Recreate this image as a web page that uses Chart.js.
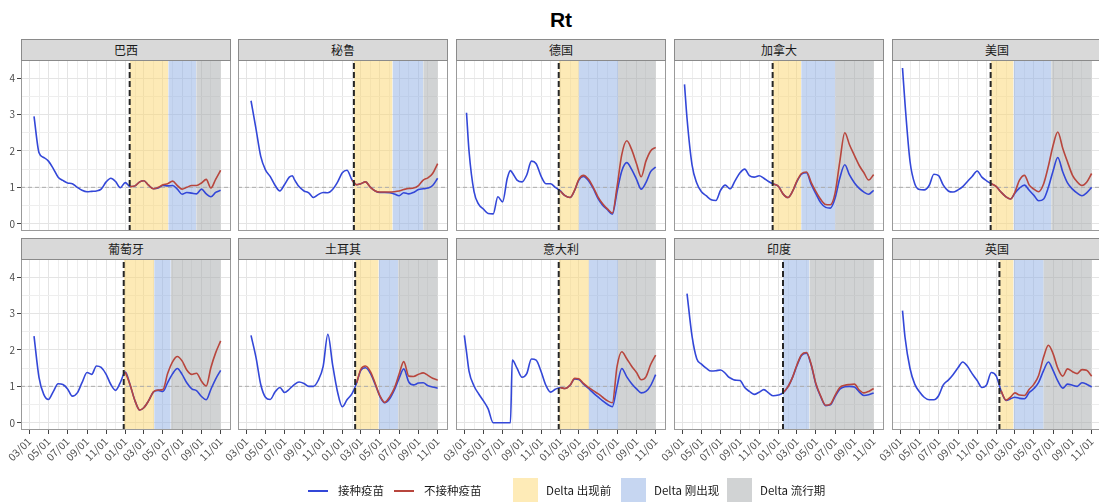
<!DOCTYPE html>
<html>
<head>
<meta charset="utf-8">
<script src="https://cdn.jsdelivr.net/npm/chart.js@4.4.1/dist/chart.umd.min.js"></script>
<style>
html,body{margin:0;padding:0;background:#fff;overflow:hidden;width:1099px;height:503px;}
body{position:relative;font-family:"Noto Sans CJK SC","Liberation Sans",sans-serif;}
canvas{position:absolute;}
.strip{position:absolute;box-sizing:border-box;width:210px;height:22px;background:#d9d9d9;border:1px solid #8a8a8a;text-align:center;font-size:12px;line-height:20px;color:#1a1a1a;}
#title{position:absolute;left:0;top:8px;width:1122px;text-align:center;font-family:"Liberation Sans",sans-serif;font-weight:bold;font-size:21px;line-height:24px;color:#000;}
.legLine{position:absolute;height:2px;width:20px;}
.legBox{position:absolute;width:25px;height:24px;top:478px;}
.legText{position:absolute;top:484px;font-size:11.5px;line-height:13px;color:#1a1a1a;white-space:nowrap;}
</style>
</head>
<body>
<div id="title">Rt</div>
<script>
const N = null;
// ---- data ----
const dates = ['2020-03-01','2020-03-08','2020-03-16','2020-04-01','2020-04-16','2020-05-01','2020-05-16','2020-06-01','2020-06-16','2020-07-01','2020-07-16','2020-07-26',
  '2020-08-01','2020-08-16','2020-09-01','2020-09-16','2020-10-01','2020-10-16','2020-11-01','2020-11-16','2020-12-01','2020-12-16',
  '2021-01-01','2021-01-16','2021-02-01','2021-02-16','2021-03-01','2021-03-16','2021-04-01','2021-04-16','2021-05-01','2021-05-16','2021-06-01','2021-06-16',
  '2021-07-01','2021-07-16','2021-08-01','2021-08-16','2021-09-01','2021-09-16','2021-10-01','2021-10-16','2021-11-01'];

const countries = ['巴西','秘鲁','德国','加拿大','美国','葡萄牙','土耳其','意大利','印度','英国'];

const brazilVax = [N,N, 2.95,1.95,1.82,1.72,1.52,1.28,1.19,1.12,1.1, N,
  1.0,0.92,0.88,0.89,0.9,0.95,1.15,1.25,1.16,0.99,
  1.13,1.02,1.04,1.15,1.18,1.06,0.96,0.98,1.05,1.04,1.05,0.95,0.81,0.86,0.84,0.82,0.95,0.82,0.74,0.86,0.92];
const brazilUnvax = [N,N, N,N,N,N,N,N,N,N,N, N, N,N,N,N,N,N,N,N,N,N,
  N,1.02,1.04,1.15,1.18,1.06,0.96,1.0,1.07,1.1,1.17,1.05,0.95,1.0,1.05,1.05,1.12,1.22,0.98,1.22,1.47];

const peruVax = [N,N, 3.38,2.6,1.85,1.48,1.3,1.05,0.9,1.08,1.28, 1.32,
  1.22,1.02,0.9,0.85,0.72,0.8,0.86,0.85,0.94,1.13,
  1.4,1.47,1.2,1.07,1.1,1.15,1.0,0.9,0.86,0.86,0.85,0.82,0.77,0.85,0.82,0.86,0.94,0.96,0.98,1.05,1.25];
const peruUnvax = [N,N, N,N,N,N,N,N,N,N,N, N, N,N,N,N,N,N,N,N,N,N,
  N,N,1.2,1.07,1.1,1.15,1.0,0.9,0.87,0.87,0.87,0.88,0.9,0.94,0.97,0.98,1.05,1.2,1.26,1.38,1.65];

const germanyVax = [N,3.05, 2.0,0.88,0.53,0.4,0.28,0.27,0.74,0.6,1.25, 1.46,
  1.4,1.2,1.15,1.34,1.72,1.65,1.3,1.1,1.1,1.0,
  0.9,0.77,0.72,0.92,1.2,1.3,1.18,0.97,0.7,0.51,0.38,0.26,0.88,1.45,1.68,1.5,1.22,0.95,1.13,1.43,1.56];
const germanyUnvax = [N,N, N,N,N,N,N,N,N,N,N, N, N,N,N,N,N,N,N,N,N,N,
  0.9,0.77,0.72,0.93,1.22,1.33,1.22,1.0,0.74,0.55,0.4,0.29,1.02,1.9,2.28,2.05,1.65,1.29,1.72,2.0,2.1];

const canadaVax = [N,3.83, 2.9,1.62,1.12,0.88,0.77,0.66,0.64,0.92,1.06, 0.99,
  0.96,1.18,1.4,1.5,1.32,1.28,1.32,1.25,1.16,1.09,
  1.03,0.82,0.72,0.9,1.15,1.36,1.4,1.08,0.82,0.58,0.45,0.43,0.7,1.25,1.62,1.34,1.12,0.97,0.87,0.81,0.92];
const canadaUnvax = [N,N, N,N,N,N,N,N,N,N,N, N, N,N,N,N,N,N,N,N,N,1.09,
  1.03,0.82,0.72,0.9,1.17,1.38,1.42,1.13,0.88,0.67,0.53,0.52,0.84,1.7,2.5,2.17,1.87,1.6,1.4,1.2,1.35];

const usaVax = [N,4.28, 3.3,1.71,1.1,0.94,0.93,1.05,1.36,1.32,1.06, N,
  0.9,0.87,0.93,1.02,1.16,1.3,1.45,1.28,1.18,1.1,
  1.02,0.87,0.74,0.68,0.84,0.98,1.06,0.92,0.78,0.63,0.68,1.0,1.45,1.82,1.42,1.12,0.95,0.84,0.77,0.85,1.0];
const usaUnvax = [N,N, N,N,N,N,N,N,N,N,N, N, N,N,N,N,N,N,N,N,N,1.1,
  1.02,0.87,0.74,0.68,0.86,1.2,1.33,1.06,0.95,0.88,1.1,1.58,2.15,2.52,2.07,1.7,1.33,1.15,1.05,1.14,1.38];

const portugalVax = [N,N, 2.38,1.24,0.78,0.64,0.85,1.07,1.05,0.93,0.73, N,
  0.82,1.1,1.38,1.33,1.56,1.52,1.33,1.05,0.89,1.1,
  1.39,1.05,0.6,0.35,0.41,0.6,0.85,0.89,0.86,1.1,1.35,1.49,1.33,1.1,0.93,0.88,0.72,0.63,0.92,1.2,1.44];
const portugalUnvax = [N,N, N,N,N,N,N,N,N,N,N, N, N,N,N,N,N,N,N,N,N,N,
  1.39,1.05,0.6,0.35,0.41,0.6,0.85,0.9,0.91,1.35,1.68,1.82,1.7,1.45,1.33,1.36,1.14,1.01,1.52,1.92,2.25];

const turkeyVax = [N,N, 2.4,1.79,1.05,0.7,0.64,0.85,0.97,0.83,0.92, N,
  1.05,1.12,1.08,1.0,1.0,1.16,1.55,2.43,1.6,0.88,
  0.44,0.63,0.8,1.1,1.44,1.51,1.35,1.05,0.72,0.55,0.66,0.9,1.22,1.48,1.12,1.04,1.09,1.1,1.02,0.98,0.95];
const turkeyUnvax = [N,N, N,N,N,N,N,N,N,N,N, N, N,N,N,N,N,N,N,N,N,N,
  N,N,N,1.1,1.47,1.56,1.4,1.08,0.74,0.56,0.71,0.95,1.33,1.68,1.28,1.27,1.33,1.37,1.3,1.22,1.17];

const italyVax = [2.4,1.95, 1.42,1.01,0.79,0.6,0.38,0.0,0.0,0.0,0.0, 0.0,
  1.72,1.5,1.25,1.35,1.75,1.72,1.4,1.03,0.84,0.92,
  0.97,0.94,1.03,1.2,1.19,1.06,0.94,0.82,0.71,0.6,0.5,0.44,1.0,1.49,1.26,1.08,0.93,0.82,0.86,1.02,1.32];
const italyUnvax = [N,N, N,N,N,N,N,N,N,N,N, N, N,N,N,N,N,N,N,N,N,N,
  0.97,0.94,1.03,1.22,1.21,1.08,0.97,0.88,0.8,0.7,0.6,0.55,1.55,1.95,1.76,1.56,1.38,1.18,1.26,1.6,1.86];

const indiaVax = [N,N, 3.55,2.38,1.76,1.61,1.5,1.42,1.43,1.45,1.36, 1.26,
  1.23,1.17,1.16,0.97,0.86,0.78,0.84,0.91,0.82,0.74,
  0.76,0.82,0.99,1.26,1.56,1.85,1.91,1.58,1.05,0.72,0.47,0.49,0.72,0.92,0.99,1.0,0.98,0.85,0.75,0.77,0.82];
const indiaUnvax = [N,N, N,N,N,N,N,N,N,N,N, N, N,N,N,N,N,N,N,N,N,N,
  N,0.82,0.99,1.26,1.58,1.87,1.93,1.6,1.07,0.74,0.48,0.51,0.75,0.97,1.03,1.05,1.06,0.9,0.82,0.86,0.94];

const ukVax = [N,3.08, 2.35,1.49,1.06,0.85,0.7,0.63,0.63,0.74,1.04, N,
  1.17,1.32,1.51,1.67,1.55,1.35,1.16,0.97,1.04,1.38,
  1.28,0.88,0.61,0.66,0.7,0.67,0.66,0.83,0.94,1.11,1.44,1.67,1.44,1.15,0.95,1.06,1.03,1.0,1.1,1.06,0.98];
const ukUnvax = [N,N, N,N,N,N,N,N,N,N,N, N, N,N,N,N,N,N,N,N,N,N,
  N,0.88,0.62,0.71,0.82,0.76,0.75,0.92,1.06,1.3,1.81,2.13,1.9,1.5,1.28,1.48,1.4,1.35,1.46,1.44,1.28];

// phase dates: vaccination start (dashed line), Delta emerges, Delta dominant, period end
const vaccineStart  = ['2021-01-15','2021-02-07','2020-12-27','2020-12-14','2020-12-14','2020-12-27','2021-02-11','2020-12-27','2021-01-16','2021-01-11'];
const deltaEmerges  = ['2021-05-18','2021-06-10','2021-03-01','2021-03-15','2021-02-25','2021-04-03','2021-04-27','2021-04-02','2021-01-16','2021-02-25'];
const deltaDominant = ['2021-08-15','2021-09-16','2021-07-04','2021-07-02','2021-06-25','2021-05-26','2021-06-28','2021-07-04','2021-04-10','2021-06-01'];
const periodEnd = '2021-11-01';

const xTickDates  = ['2020-03-01','2020-05-01','2020-07-01','2020-09-01','2020-11-01','2021-01-01','2021-03-01','2021-05-01','2021-07-01','2021-09-01','2021-11-01'];
const xTickLabels = ['03/01','05/01','07/01','09/01','11/01','01/01','03/01','05/01','07/01','09/01','11/01'];
const xMinorDates = ['2020-04-01','2020-06-01','2020-08-01','2020-10-01','2020-12-01','2021-02-01','2021-04-01','2021-06-01','2021-08-01','2021-10-01','2021-12-01'];
const yTickValues = [0,0.5,1,1.5,2,2.5,3,3.5,4];
const yTickLabels = ['0','','1','','2','','3','','4'];

const vaxSeries = [brazilVax,peruVax,germanyVax,canadaVax,usaVax,portugalVax,turkeyVax,italyVax,indiaVax,ukVax];
const unvaxSeries = [brazilUnvax,peruUnvax,germanyUnvax,canadaUnvax,usaUnvax,portugalUnvax,turkeyUnvax,italyUnvax,indiaUnvax,ukUnvax];

// ---- layout / style ----
const COL_X = [21, 238, 456, 674, 892];
const ROW_Y = [60, 259];
const STRIP_Y = [39, 238];
const PLOT_W = 210, PLOT_H = 171, Y_W = 22, PAD_T = 2, PAD_R = 14;
const X_MIN = 33.5, X_MAX = 703, Y_MIN = -0.2, Y_MAX = 4.5;
const BLUE = '#3347d8', RED = '#b8463d';
const SHADE = ['rgba(252,214,110,0.5)','rgba(141,173,227,0.5)','rgba(163,167,169,0.5)'];
const SHADE_SOLID = ['#feebb7','#c6d6f1','#d1d3d4'];

Chart.defaults.font.family = '"Noto Sans CJK SC","Liberation Sans",sans-serif';

function dayNum(s){ const [y,m,d] = s.split('-').map(Number); return (Date.UTC(y,m-1,d) - Date.UTC(2020,0,1)) / 864e5; }
const xs = dates.map(dayNum);
const majorDays = xTickDates.map(dayNum);
const minorDays = xMinorDates.map(dayNum).filter(v => v >= X_MIN && v <= X_MAX);
const allXTicks = majorDays.concat(minorDays).sort((a,b)=>a-b);
const isMajorX = v => majorDays.indexOf(v) >= 0;
const toPts = vals => vals.map((v,i) => ({x: xs[i], y: v}));

const framePlugin = {
  id: 'frame',
  afterDraw(chart){
    const a = chart.chartArea, ctx = chart.ctx;
    ctx.save();
    ctx.strokeStyle = '#9a9a9a'; ctx.lineWidth = 1;
    ctx.strokeRect(Math.round(a.left)+0.5, Math.round(a.top)+0.5, Math.round(a.width)-1, Math.round(a.height)-1);
    ctx.restore();
  }
};

function makePanel(k){
  const col = k % 5, row = Math.floor(k / 5);
  const strip = document.createElement('div');
  strip.className = 'strip';
  strip.style.left = COL_X[col] + 'px';
  strip.style.top = STRIP_Y[row] + 'px';
  strip.textContent = countries[k];

  const cv = document.createElement('canvas');
  const xH = row === 1 ? 44 : 0;
  const padB = row === 1 ? 0 : 2;
  const W = Y_W + PLOT_W + PAD_R, H = PAD_T + PLOT_H + xH + padB;
  cv.width = W; cv.height = H;
  cv.style.width = W + 'px'; cv.style.height = H + 'px';
  cv.style.left = (COL_X[col] - Y_W) + 'px';
  cv.style.top = (ROW_Y[row] - PAD_T) + 'px';
  document.body.appendChild(cv);
  document.body.appendChild(strip);

  const vs = dayNum(vaccineStart[k]), de = dayNum(deltaEmerges[k]), dd = dayNum(deltaDominant[k]), pe = dayNum(periodEnd);
  const shade = (a, b, i) => ({
    type: 'line', data: [{x:a, y:Y_MAX}, {x:b, y:Y_MAX}], fill: 'start',
    backgroundColor: SHADE[i], borderWidth: 0, pointRadius: 0, order: 10
  });
  const datasets = [];
  if (de > vs) datasets.push(shade(vs, de, 0));
  datasets.push(shade(de, dd, 1));
  datasets.push(shade(dd, pe, 2));
  datasets.push({ data: [{x:X_MIN, y:1}, {x:X_MAX, y:1}], borderColor: '#ababab', borderWidth: 1, borderDash: [4,3], pointRadius: 0, order: 5 });
  datasets.push({ data: toPts(vaxSeries[k]), borderColor: BLUE, borderWidth: 1.6, pointRadius: 0, cubicInterpolationMode: 'monotone', spanGaps: true, order: 3 });
  datasets.push({ data: toPts(unvaxSeries[k]), borderColor: RED, borderWidth: 1.6, pointRadius: 0, cubicInterpolationMode: 'monotone', spanGaps: true, order: 2 });
  datasets.push({ data: [{x:vs, y:Y_MIN}, {x:vs, y:Y_MAX}], borderColor: '#262626', borderWidth: 2, borderDash: [6,3], pointRadius: 0, order: 0 });

  const chart = new Chart(cv, {
    type: 'line',
    data: { datasets },
    plugins: [framePlugin],
    options: {
      responsive: false, animation: false, events: [],
      layout: { padding: { left: 0, right: PAD_R, top: PAD_T, bottom: padB } },
      plugins: { legend: { display: false }, tooltip: { enabled: false } },
      scales: {
        x: {
          type: 'linear', min: X_MIN, max: X_MAX,
          afterBuildTicks: s => { s.ticks = allXTicks.map(v => ({value: v})); },
          afterFit: s => { s.height = xH; s.paddingLeft = 0; s.paddingRight = 0; s.paddingTop = 0; s.paddingBottom = 0; },
          ticks: {
            display: row === 1, autoSkip: false, minRotation: 45, maxRotation: 45, padding: 1,
            color: '#4d4d4d', font: { size: 10.5 },
            callback: v => { const i = majorDays.indexOf(v); return i >= 0 ? xTickLabels[i] : ''; }
          },
          grid: {
            color: c => (c.tick && isMajorX(c.tick.value)) ? '#e4e4e4' : '#eeeeee',
            lineWidth: 1, drawTicks: row === 1, tickLength: 4,
            tickColor: c => (c.tick && isMajorX(c.tick.value)) ? '#444' : 'rgba(0,0,0,0)'
          },
          border: { display: false }
        },
        y: {
          type: 'linear', min: Y_MIN, max: Y_MAX,
          afterBuildTicks: s => { s.ticks = yTickValues.map(v => ({value: v})); },
          afterFit: s => { s.width = Y_W; s.paddingTop = 0; s.paddingBottom = 0; },
          ticks: {
            display: col === 0, padding: 2, color: '#4d4d4d', font: { size: 10 },
            callback: v => { const i = yTickValues.indexOf(v); return i >= 0 ? yTickLabels[i] : ''; }
          },
          grid: {
            color: c => (c.tick && Number.isInteger(c.tick.value)) ? '#e4e4e4' : '#eeeeee',
            lineWidth: 1, drawTicks: col === 0, tickLength: 4,
            tickColor: c => (c.tick && Number.isInteger(c.tick.value)) ? '#444' : 'rgba(0,0,0,0)'
          },
          border: { display: false }
        }
      }
    }
  });
  const a = chart.chartArea;
  cv.style.left = (COL_X[col] - a.left) + 'px';
  cv.style.top = (ROW_Y[row] - a.top) + 'px';
}

for (let k = 0; k < countries.length; k++) makePanel(k);

// ---- legend ----
const legendLines = [{label:'接种疫苗', color: BLUE, x: 308, tx: 338}, {label:'不接种疫苗', color: RED, x: 394, tx: 424}];
const legendBoxes = [{label:'Delta 出现前', x: 513}, {label:'Delta 刚出现', x: 621}, {label:'Delta 流行期', x: 727}];
legendLines.forEach(it => {
  const l = document.createElement('div'); l.className = 'legLine';
  l.style.left = it.x + 'px'; l.style.top = '489.5px'; l.style.background = it.color;
  document.body.appendChild(l);
  const t = document.createElement('div'); t.className = 'legText';
  t.style.left = it.tx + 'px'; t.textContent = it.label;
  document.body.appendChild(t);
});
legendBoxes.forEach((it, i) => {
  const b = document.createElement('div'); b.className = 'legBox';
  b.style.left = it.x + 'px'; b.style.background = SHADE_SOLID[i];
  document.body.appendChild(b);
  const t = document.createElement('div'); t.className = 'legText';
  t.style.left = (it.x + 33) + 'px'; t.textContent = it.label;
  document.body.appendChild(t);
});
</script>
</body>
</html>
